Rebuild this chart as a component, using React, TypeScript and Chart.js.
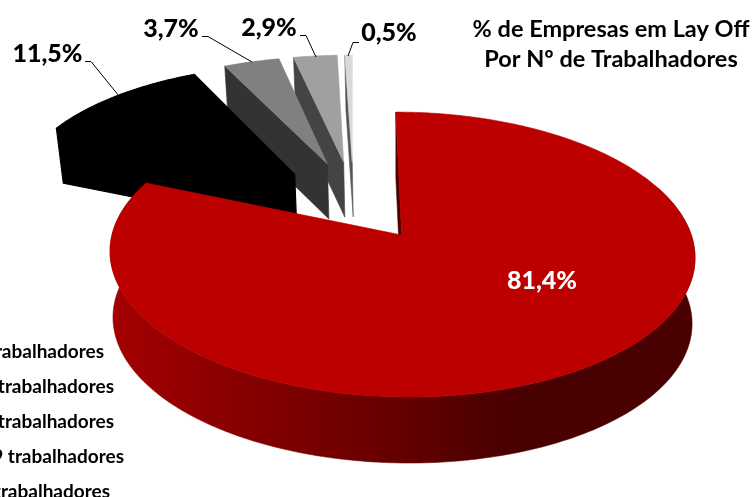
import React, { useEffect, useRef } from "react";
import { Chart, registerables } from "chart.js";

Chart.register(...registerables);

const categories = [
  "1-9 trabalhadores",
  "10-49 trabalhadores",
  "50-99 trabalhadores",
  "100-249 trabalhadores",
  "250+ trabalhadores",
];
const shares = [81.4, 11.5, 3.7, 2.9, 0.5];
const valueLabels = ["81,4%", "11,5%", "3,7%", "2,9%", "0,5%"];
const titleLines = ["% de Empresas em Lay Off", "Por Nº de Trabalhadores"];

const topColors = ["#bc0000", "#000000", "#808080", "#a0a0a0", "#d9d9d9"];
const wallColors = ["#480000", "#000000", "#333333", "#444444", "#555555"];
const drawOrder = [4, 3, 2, 1, 0];

const FONT = "Lato, Carlito, sans-serif";
const CX = 353.5, CY = 203.4, AX = 283.5, EY = 104.3, P = -0.1326;

function project(u: number, v: number) {
  const w = 1 + P * v;
  return { x: CX + (u * AX) / w, y: (CY + EY * v) / w };
}
function lower(u: number, v: number, squeeze: number, h: number) {
  const p = project(u, v);
  return { x: 402 + (p.x - 402) * squeeze, y: p.y + h };
}
function explodeOf(i: number, theta: number) {
  const s = i === 0 ? 0.28 : 0.296;
  const k = i === 0 ? 1 : 1.115;
  return { ou: s * Math.sin(theta) + (i === 0 ? 0.01 : 0), ov: -s * k * Math.cos(theta) };
}

const pie3d = {
  id: "pie3d",
  beforeDatasetsDraw(chart: any) {
    const ctx = chart.ctx as CanvasRenderingContext2D;
    const arcs = chart.getDatasetMeta(0).data;
    const poly = (pts: { x: number; y: number }[], fill: any, seal = 0.6) => {
      ctx.beginPath();
      pts.forEach((p, n) => (n ? ctx.lineTo(p.x, p.y) : ctx.moveTo(p.x, p.y)));
      ctx.closePath();
      ctx.fillStyle = fill;
      ctx.fill();
      ctx.strokeStyle = fill;
      ctx.lineWidth = seal;
      ctx.lineJoin = "round";
      ctx.stroke();
    };
    ctx.save();
    for (const i of drawOrder) {
      const a0 = arcs[i].startAngle + Math.PI / 2;
      const a1 = arcs[i].endAngle + Math.PI / 2;
      const { ou, ov } = explodeOf(i, (a0 + a1) / 2);
      const rx = i === 0 ? 0.99 : 1;
      const squeeze = i === 0 ? 0.99 : 0.98;
      const h = i === 0 ? 66 : 55;
      const seal = i === 1 ? 1.2 : 0.6;
      const at = (t: number, r = 1) => [ou + r * rx * Math.sin(t), ov - r * Math.cos(t)] as const;
      const n = Math.max(2, Math.ceil((a1 - a0) * 90));
      const rim: (readonly [number, number])[] = [];
      for (let k = 0; k <= n; k++) rim.push(at(a0 + ((a1 - a0) * k) / n));

      if (i === 0) {
        const g = ctx.createLinearGradient(113, 0, 692, 0);
        g.addColorStop(0, "#a40000");
        g.addColorStop(0.42, "#6e0000");
        g.addColorStop(0.68, "#4a0000");
        g.addColorStop(1, "#480000");
        const wall = rim.filter((_, k) => a0 + ((a1 - a0) * k) / n > 1.2);
        poly(
          [...wall.map((q) => project(q[0], q[1])), ...wall.slice().reverse().map((q) => lower(q[0], q[1], squeeze, h))],
          g
        );
      }
      const start = at(a0);
      const apex = at(a0, 0);
      poly(
        [project(start[0], start[1]), project(apex[0], apex[1]), lower(apex[0], apex[1], squeeze, h), lower(start[0], start[1], squeeze, h)],
        wallColors[i],
        seal
      );
      poly([project(apex[0], apex[1]), ...rim.map((q) => project(q[0], q[1]))], topColors[i], seal);
    }
    ctx.restore();
    return false;
  },
  afterDraw(chart: any) {
    const ctx = chart.ctx as CanvasRenderingContext2D;
    ctx.save();
    ctx.textBaseline = "middle";

    ctx.strokeStyle = "#000000";
    ctx.lineWidth = 1;
    const leaders = [
      [[85, 61.5], [91, 61.5], [119, 96]],
      [[202, 36.5], [208, 36.5], [252, 62]],
      [[300, 35.5], [306, 35.5], [316, 57]],
      [[359, 42.5], [353, 42.5], [348, 56]],
    ];
    leaders.forEach((l) => {
      ctx.beginPath();
      l.forEach((p, n) => (n ? ctx.lineTo(p[0], p[1]) : ctx.moveTo(p[0], p[1])));
      ctx.stroke();
    });

    ctx.textAlign = "center";
    ctx.font = `900 25px ${FONT}`;
    const spots = [[542, 281], [47.5, 54], [171, 29], [269, 28], [389, 33]];
    valueLabels.forEach((t, i) => {
      ctx.fillStyle = i === 0 ? "#ffffff" : "#000000";
      ctx.fillText(t, spots[i][0], spots[i][1]);
    });

    ctx.fillStyle = "#000000";
    ctx.font = `bold 23.5px ${FONT}`;
    ctx.fillText(titleLines[0], 611, 29);
    ctx.fillText(titleLines[1], 611, 59);

    ctx.textAlign = "right";
    ctx.font = `bold 19px ${FONT}`;
    const ends = [104, 114, 114, 124, 110];
    chart.data.labels.forEach((t: string, i: number) => {
      ctx.fillText(t, ends[i], 352 + i * 35);
    });
    ctx.restore();
  },
};

export default function App() {
  const ref = useRef<HTMLCanvasElement>(null);
  useEffect(() => {
    const chart = new Chart(ref.current!, {
      type: "pie",
      data: {
        labels: categories,
        datasets: [{ data: shares, backgroundColor: topColors, borderWidth: 0 }],
      },
      options: {
        animation: false,
        responsive: false,
        plugins: { legend: { display: false }, tooltip: { enabled: false } },
      },
      plugins: [pie3d],
    } as any);
    return () => chart.destroy();
  }, []);
  return (
    <div style={{ position: "fixed", left: 0, top: 0, width: 754, height: 497, background: "#fff" }}>
      <canvas ref={ref} width={754} height={497} style={{ display: "block" }} />
    </div>
  );
}
